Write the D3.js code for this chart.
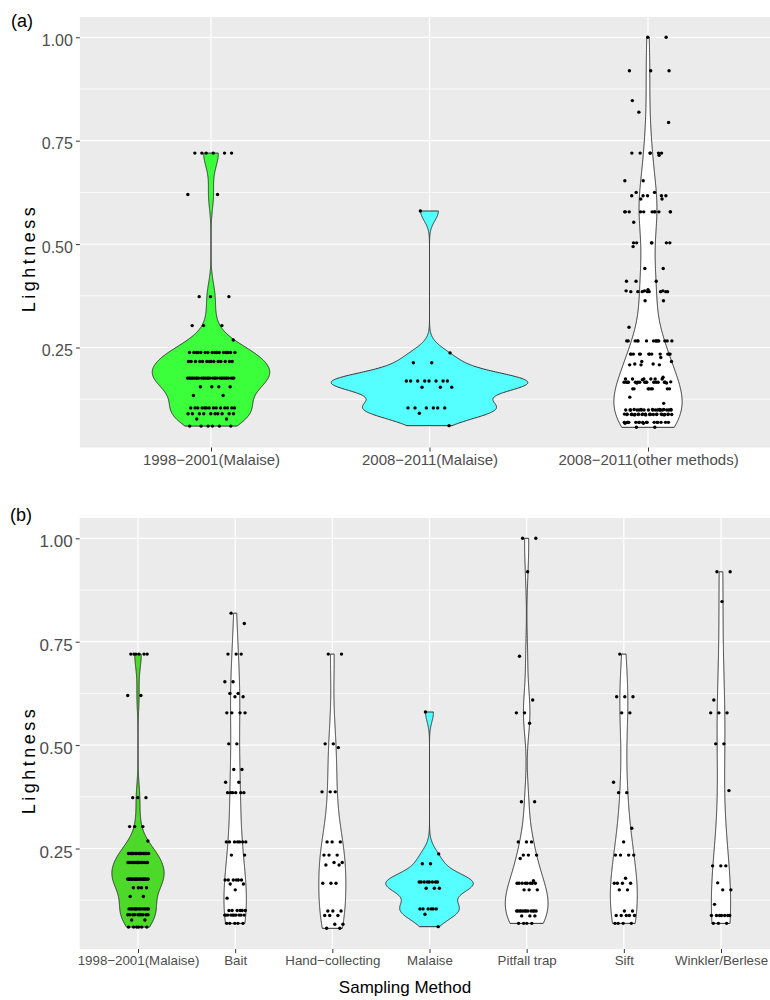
<!DOCTYPE html>
<html>
<head>
<meta charset="utf-8">
<script src="https://cdnjs.cloudflare.com/ajax/libs/d3/7.8.5/d3.min.js"></script>
<style>
  body { margin: 0; background: #fff; }
  svg { display: block; font-family: "Liberation Sans", Arial, sans-serif; }
</style>
</head>
<body>
<svg id="chart" width="770" height="1000"></svg>
<script>
// lightness values, as [value, number of specimens]
const malaise9801 = [[0.72, 6], [0.62, 2], [0.373, 3], [0.303, 3], [0.268, 1], [0.238, 16], [0.216, 14],
    [0.176, 30], [0.155, 4], [0.134, 2], [0.104, 14], [0.090, 10], [0.077, 2], [0.060, 6]];
const malaise0811 = [[0.58, 1], [0.237, 1], [0.213, 2], [0.169, 8], [0.154, 3], [0.104, 6], [0.091, 1], [0.061, 1]];
const bait = [[0.819, 1], [0.794, 1], [0.72, 3], [0.653, 2], [0.625, 2], [0.617, 2], [0.578, 4], [0.503, 2],
    [0.441, 2], [0.41, 2], [0.385, 6], [0.266, 7], [0.234, 2], [0.174, 6], [0.164, 2], [0.15, 1], [0.13, 1],
    [0.1, 6], [0.089, 10], [0.069, 5]];
const handCollecting = [[0.72, 2], [0.503, 2], [0.494, 1], [0.387, 3], [0.266, 3], [0.234, 3], [0.216, 2],
    [0.21, 2], [0.166, 3], [0.099, 3], [0.088, 3], [0.067, 2], [0.057, 2]];
const pitfallTrap = [[1.0, 2], [0.919, 1], [0.715, 1], [0.609, 1], [0.578, 2], [0.553, 1], [0.363, 2],
    [0.266, 3], [0.234, 3], [0.226, 1], [0.172, 1], [0.166, 8], [0.15, 3], [0.099, 12], [0.087, 3], [0.069, 4]];
const sift = [[0.72, 1], [0.617, 3], [0.578, 2], [0.41, 1], [0.385, 2], [0.299, 1], [0.266, 1], [0.234, 4],
    [0.178, 1], [0.166, 4], [0.15, 2], [0.099, 2], [0.088, 5], [0.069, 4]];
const winklerBerlese = [[0.919, 2], [0.847, 1], [0.609, 1], [0.578, 3], [0.503, 2], [0.39, 1], [0.208, 3],
    [0.167, 1], [0.15, 2], [0.115, 1], [0.088, 7], [0.069, 3]];

const periodLabels = ['1998−2001(Malaise)', '2008−2011(Malaise)', '2008−2011(other methods)'];
const methodLabels = ['1998−2001(Malaise)', 'Bait', 'Hand−collecting', 'Malaise', 'Pitfall trap', 'Sift', 'Winkler/Berlese'];
const yTicks = [0.25, 0.5, 0.75, 1.0];
const yMinor = [0.125, 0.375, 0.625, 0.875];

const svg = d3.select('#chart');

function expand(rows) {
    return rows.flatMap(([v, n]) => d3.range(n).map(() => v));
}

// same as R's bw.nrd0
function bandwidth(x) {
    const s = d3.sort(x);
    const hi = d3.deviation(s);
    const iqr = d3.quantileSorted(s, 0.75) - d3.quantileSorted(s, 0.25);
    let lo = Math.min(hi, iqr / 1.34);
    if (!lo) lo = hi || Math.abs(s[0]) || 1;
    return 0.9 * lo * Math.pow(s.length, -0.2);
}

// gaussian kernel density, trimmed to the data range (geom_violin default)
function density(x) {
    const h = bandwidth(x);
    const [lo, hi] = d3.extent(x);
    const k = 1 / (x.length * h * Math.sqrt(2 * Math.PI));
    return d3.range(512).map(i => {
        const t = lo + (hi - lo) * i / 511;
        return { v: t, d: k * d3.sum(x, xi => Math.exp(-0.5 * ((t - xi) / h) ** 2)) };
    });
}

function drawPanel(cfg) {
    const g = svg.append('g');
    const x = d3.scalePoint().domain(cfg.labels).range(cfg.xRange);
    const step = x.step();
    const left = cfg.xRange[0] - 0.6 * step;
    const right = cfg.xRange[1] + 0.6 * step;
    const y = d3.scaleLinear().domain([0, 1]).range(cfg.yRange);

    g.append('rect')
        .attr('x', left).attr('y', cfg.top)
        .attr('width', right - left).attr('height', cfg.bottom - cfg.top)
        .attr('fill', '#ebebeb');

    g.selectAll('line.minor').data(yMinor).join('line')
        .attr('x1', left).attr('x2', right)
        .attr('y1', d => y(d)).attr('y2', d => y(d))
        .attr('stroke', '#fff').attr('stroke-width', 0.8);
    g.selectAll('line.major').data(yTicks).join('line')
        .attr('x1', left).attr('x2', right)
        .attr('y1', d => y(d)).attr('y2', d => y(d))
        .attr('stroke', '#fff').attr('stroke-width', 1.2);
    g.selectAll('line.vgrid').data(cfg.labels).join('line')
        .attr('x1', d => x(d)).attr('x2', d => x(d))
        .attr('y1', cfg.top).attr('y2', cfg.bottom)
        .attr('stroke', '#fff').attr('stroke-width', 1.2);

    const dens = cfg.groups.map(density);
    const dmax = d3.max(dens, ds => d3.max(ds, p => p.d));
    const half = 0.45 * step;

    cfg.groups.forEach((vals, i) => {
        const cx = x(cfg.labels[i]);
        const area = d3.area()
            .y(p => y(p.v))
            .x0(p => cx - p.d / dmax * half)
            .x1(p => cx + p.d / dmax * half);
        g.append('path')
            .attr('d', area(dens[i]))
            .attr('fill', cfg.fills[i])
            .attr('stroke', '#333')
            .attr('stroke-width', 1);
    });

    cfg.groups.forEach((vals, i) => {
        const cx = x(cfg.labels[i]);
        g.append('g').selectAll('circle').data(vals).join('circle')
            .attr('cx', (v, j) => cx + (((j * 0.6180339887 + 0.31) % 1) * 2 - 1) * 0.11 * step)
            .attr('cy', v => y(v))
            .attr('r', 1.7)
            .attr('fill', '#000');
    });

    const yAxis = g.append('g')
        .attr('transform', `translate(${left},0)`)
        .call(d3.axisLeft(y).tickValues(yTicks).tickFormat(d3.format('.2f')).tickSize(4).tickPadding(3));
    yAxis.select('.domain').remove();
    yAxis.selectAll('line').attr('stroke', '#333');
    yAxis.selectAll('text')
        .attr('fill', '#4d4d4d')
        .attr('font-size', cfg.yFont)
        .attr('dy', '0.5em');

    const xAxis = g.append('g')
        .attr('transform', `translate(0,${cfg.bottom})`)
        .call(d3.axisBottom(x).tickSize(4).tickPadding(cfg.xPad));
    xAxis.select('.domain').remove();
    xAxis.selectAll('line').attr('stroke', '#333');
    xAxis.selectAll('text')
        .attr('fill', '#4d4d4d')
        .attr('font-size', cfg.xFont);

    svg.append('text')
        .attr('x', cfg.tagX).attr('y', cfg.tagY)
        .attr('font-size', 18)
        .attr('fill', '#000')
        .text(cfg.tag);

    svg.append('text')
        .attr('transform', `translate(35,${cfg.titleY}) rotate(-90)`)
        .attr('text-anchor', 'middle')
        .attr('font-size', 18)
        .attr('letter-spacing', '3.5px')
        .attr('fill', '#000')
        .text('Lightness');
}

const vals9801 = expand(malaise9801);
const vals0811 = expand(malaise0811);
const methodVals = [bait, handCollecting, pitfallTrap, sift, winklerBerlese].map(expand);

drawPanel({
    tag: '(a)', tagX: 11, tagY: 27, titleY: 258,
    labels: periodLabels,
    groups: [vals9801, vals0811, methodVals.flat()],
    fills: ['#3cff3c', '#55ffff', '#ffffff'],
    xRange: [211, 648], yRange: [450.9, 37.3],
    top: 17, bottom: 447.5,
    yFont: 16, xFont: 15, xPad: 3
});

drawPanel({
    tag: '(b)', tagX: 10, tagY: 521, titleY: 760,
    labels: methodLabels,
    groups: [vals9801, methodVals[0], methodVals[1], vals0811, methodVals[2], methodVals[3], methodVals[4]],
    fills: ['#4cd92a', '#ffffff', '#ffffff', '#55ffff', '#ffffff', '#ffffff', '#ffffff'],
    xRange: [138, 721], yRange: [951.9, 538.3],
    top: 518, bottom: 949,
    yFont: 17, xFont: 13.3, xPad: 2.5
});

svg.append('text')
    .attr('x', 405).attr('y', 993)
    .attr('text-anchor', 'middle')
    .attr('font-size', 17)
    .attr('fill', '#000')
    .text('Sampling Method');
</script>
</body>
</html>
